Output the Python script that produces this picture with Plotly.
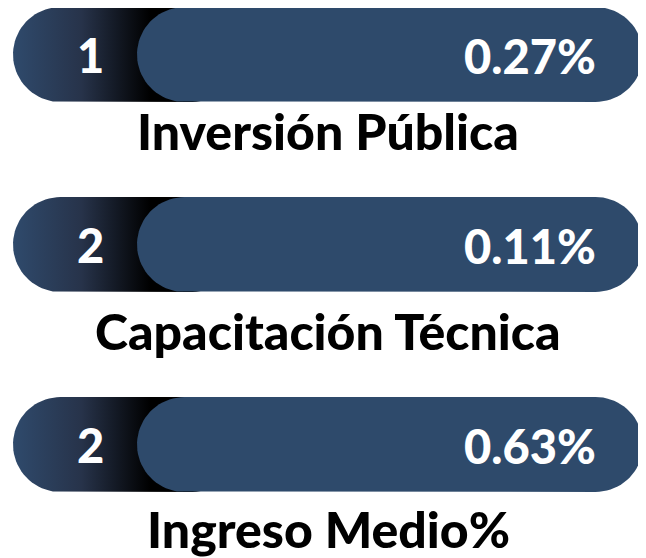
import numpy as np
import plotly.graph_objects as go

# ---- data ----
ranks = [1, 2, 2]
values = [0.27, 0.11, 0.63]
labels = ["Inversión Pública", "Capacitación Técnica", "Ingreso Medio%"]

# ---- layout constants ----
W, H = 646, 558
OFF = 8  # page body margin in the browser
ROW_TOP = [7, 197, 397]
PILL_H = 95
LABEL_Y = [131, 331, 529]
X_LEFT, X_RIGHT = 13, 643
X_FRONT = 137
BLUE = "#2e4a6b"
FONT = "Lato"


def pill(x0, x1, y0, y1, n=40):
    r = (y1 - y0) / 2
    cy = (y0 + y1) / 2
    t1 = np.linspace(-np.pi / 2, np.pi / 2, n)
    xr = (x1 - r) + r * np.cos(t1)
    yr = cy + r * np.sin(t1)
    t2 = np.linspace(np.pi / 2, 3 * np.pi / 2, n)
    xl = (x0 + r) + r * np.cos(t2)
    yl = cy + r * np.sin(t2)
    xs = np.concatenate([xr, xl, xr[:1]])
    ys = np.concatenate([yr, yl, yr[:1]])
    return xs, ys


fig = go.Figure()
annotations = []
for i, (rk, v, lab) in enumerate(zip(ranks, values, labels)):
    y0 = ROW_TOP[i]
    y1 = y0 + PILL_H
    cy = (y0 + y1) / 2
    # dark gradient back pill
    xs, ys = pill(X_LEFT, 240, y0, y1)
    fig.add_trace(go.Scatter(
        x=xs, y=ys, mode="lines", fill="toself", line=dict(width=0),
        fillgradient=dict(type="horizontal", start=X_LEFT, stop=150,
                          colorscale=[[0, "#2f4a6c"], [0.5, "#27334a"], [1, "#000000"]]),
        hoverinfo="skip", showlegend=False))
    # front blue pill
    xs, ys = pill(X_FRONT, X_RIGHT, y0, y1)
    fig.add_trace(go.Scatter(
        x=xs, y=ys, mode="lines", fill="toself", line=dict(width=0),
        fillcolor=BLUE, hoverinfo="skip", showlegend=False))
    annotations.append(dict(x=90, y=cy, text=str(rk), showarrow=False,
                            xanchor="center", yanchor="middle",
                            font=dict(family=FONT, size=47, color="white", weight=900)))
    annotations.append(dict(x=598, y=cy + 1, text=f"{v:.2f}%", showarrow=False,
                            xanchor="right", yanchor="middle",
                            font=dict(family=FONT, size=47, color="white", weight=900)))
    annotations.append(dict(x=(X_LEFT + X_RIGHT) / 2, y=LABEL_Y[i], text=lab, showarrow=False,
                            xanchor="center", yanchor="middle",
                            font=dict(family=FONT, size=50, color="black", weight=900)))

fig.update_layout(
    width=W, height=H,
    margin=dict(l=0, r=0, t=0, b=0),
    paper_bgcolor="white", plot_bgcolor="white",
    xaxis=dict(range=[OFF, W + OFF], visible=False, fixedrange=True),
    yaxis=dict(range=[H + OFF, OFF], visible=False, fixedrange=True),
    annotations=annotations,
)
fig.write_html("out.html")
